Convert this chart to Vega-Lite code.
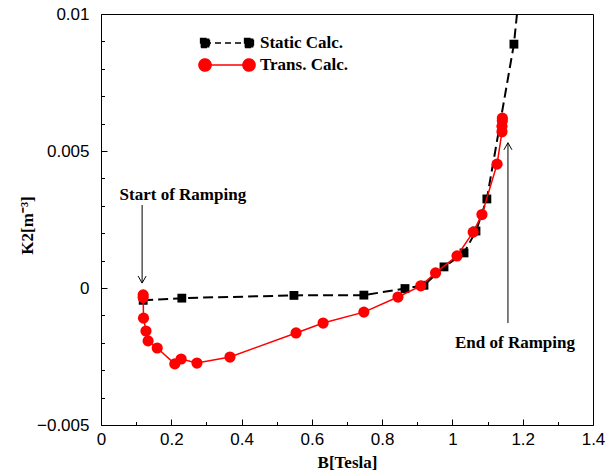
{
  "$schema": "https://vega.github.io/schema/vega-lite/v6.json",
  "width": 492,
  "height": 411,
  "autosize": {"type": "none"},
  "padding": {"left": 101, "top": 14, "right": 20, "bottom": 48},
  "background": "white",
  "config": {
    "view": {"stroke": "black", "strokeWidth": 1},
    "axis": {
      "domain": false, "grid": false, "tickColor": "black", "tickWidth": 1, "ticks": true,
      "labelColor": "black", "labelFont": "Liberation Sans", "labelFontSize": 17,
      "labelOverlap": false, "labelFlush": false,
      "titleFont": "Liberation Serif", "titleFontSize": 17, "titleFontWeight": "bold", "titleColor": "black"
    }
  },
  "datasets": {
    "curves": [
      {"series": "Static Calc.", "i": 1, "B": 0.12, "K": -0.00045},
      {"series": "Static Calc.", "i": 2, "B": 0.23, "K": -0.00037},
      {"series": "Static Calc.", "i": 3, "B": 0.549, "K": -0.00027},
      {"series": "Static Calc.", "i": 4, "B": 0.748, "K": -0.00026},
      {"series": "Static Calc.", "i": 5, "B": 0.865, "K": -0.00002},
      {"series": "Static Calc.", "i": 6, "B": 0.919, "K": 0.0001},
      {"series": "Static Calc.", "i": 7, "B": 0.976, "K": 0.00077},
      {"series": "Static Calc.", "i": 8, "B": 1.033, "K": 0.00128},
      {"series": "Static Calc.", "i": 9, "B": 1.067, "K": 0.00208},
      {"series": "Static Calc.", "i": 10, "B": 1.098, "K": 0.00325},
      {"series": "Static Calc.", "i": 11, "B": 1.175, "K": 0.0089},
      {"series": "Static Calc.", "i": 12, "B": 1.19, "K": 0.0108},
      {"series": "Trans. Calc.", "i": 1, "B": 0.12, "K": -0.00025},
      {"series": "Trans. Calc.", "i": 2, "B": 0.12, "K": -0.00035},
      {"series": "Trans. Calc.", "i": 3, "B": 0.121, "K": -0.0011},
      {"series": "Trans. Calc.", "i": 4, "B": 0.128, "K": -0.00157},
      {"series": "Trans. Calc.", "i": 5, "B": 0.134, "K": -0.00193},
      {"series": "Trans. Calc.", "i": 6, "B": 0.16, "K": -0.00219},
      {"series": "Trans. Calc.", "i": 7, "B": 0.21, "K": -0.00277},
      {"series": "Trans. Calc.", "i": 8, "B": 0.228, "K": -0.00259},
      {"series": "Trans. Calc.", "i": 9, "B": 0.273, "K": -0.00274},
      {"series": "Trans. Calc.", "i": 10, "B": 0.367, "K": -0.00252},
      {"series": "Trans. Calc.", "i": 11, "B": 0.555, "K": -0.00164},
      {"series": "Trans. Calc.", "i": 12, "B": 0.632, "K": -0.00128},
      {"series": "Trans. Calc.", "i": 13, "B": 0.748, "K": -0.00088},
      {"series": "Trans. Calc.", "i": 14, "B": 0.845, "K": -0.00033},
      {"series": "Trans. Calc.", "i": 15, "B": 0.91, "K": 0.00008},
      {"series": "Trans. Calc.", "i": 16, "B": 0.952, "K": 0.00055},
      {"series": "Trans. Calc.", "i": 17, "B": 1.013, "K": 0.00117},
      {"series": "Trans. Calc.", "i": 18, "B": 1.059, "K": 0.00204},
      {"series": "Trans. Calc.", "i": 19, "B": 1.084, "K": 0.00268},
      {"series": "Trans. Calc.", "i": 20, "B": 1.127, "K": 0.00452},
      {"series": "Trans. Calc.", "i": 21, "B": 1.141, "K": 0.0057},
      {"series": "Trans. Calc.", "i": 22, "B": 1.141, "K": 0.0059},
      {"series": "Trans. Calc.", "i": 23, "B": 1.142, "K": 0.0061},
      {"series": "Trans. Calc.", "i": 24, "B": 1.142, "K": 0.0062}
    ],
    "arrows": [
      {"label": "Start of Ramping", "dir": "down", "B": 0.117, "Kfrom": 0.00303, "Kto": 0.00018, "Btext": 0.233, "Ktext": 0.0034},
      {"label": "End of Ramping", "dir": "up", "B": 1.158, "Kfrom": -0.00128, "Kto": 0.0053, "Btext": 1.178, "Ktext": -0.002}
    ]
  },
  "layer": [
    {
      "data": {"name": "curves"},
      "transform": [{"filter": "datum.series === 'Static Calc.'"}],
      "mark": {"type": "line", "strokeDash": [10, 5], "strokeWidth": 2, "clip": true},
      "encoding": {
        "x": {"field": "B", "type": "quantitative", "scale": {"domain": [0, 1.4], "nice": false, "zero": false},
          "axis": {"orient": "bottom", "title": "B[Tesla]", "values": [0,0.1,0.2,0.3,0.4,0.5,0.6,0.7,0.8,0.9,1,1.1,1.2,1.3,1.4],
            "tickSize": 6, "offset": -6,
            "tickDash": {"condition": {"test": "round(datum.value*10) % 2 === 0", "value": [6, 0]}, "value": [0, 2.5, 3.5, 20]},
            "labelExpr": "round(datum.value*10) % 2 === 0 ? format(datum.value, '~g') : ''",
            "labelPadding": 6, "titleY": 43, "titleBaseline": "middle"}},
        "y": {"field": "K", "type": "quantitative", "scale": {"domain": [-0.005, 0.01], "nice": false, "zero": false},
          "axis": {"orient": "left", "title": "K2[m⁻³]", "values": [-0.005,-0.004,-0.003,-0.002,-0.001,0,0.001,0.002,0.003,0.004,0.005,0.006,0.007,0.008,0.009,0.01],
            "tickSize": 6, "offset": -6,
            "tickDash": {"condition": {"test": "round(datum.value*1000) % 5 === 0", "value": [6, 0]}, "value": [0, 2.5, 3.5, 20]},
            "labelExpr": "round(datum.value*1000) % 5 === 0 ? format(datum.value, '~g') : ''",
            "labelPadding": 12, "titleX": -80, "titleY": 211, "titleAngle": 270, "titleAlign": "center", "titleBaseline": "middle"}},
        "color": {"field": "series", "type": "nominal", "scale": {"domain": ["Static Calc.", "Trans. Calc."], "range": ["black", "red"]},
          "legend": {
            "title": null, "orient": "none", "legendX": 114, "legendY": 17,
            "symbolSize": 484, "labelOffset": 21, "rowPadding": 2, "padding": 0,
            "labelFont": "Liberation Serif", "labelFontSize": 17, "labelFontWeight": "bold", "labelColor": "black",
            "symbolStrokeWidth": 1.5,
            "encode": {"symbols": {"update": {
              "shape": {"signal": "datum.value === 'Static Calc.' ? 'M-2,0H2M-2.4,-0.4H-1.6V0.4H-2.4ZM1.6,-0.4H2.4V0.4H1.6Z' : 'M-2,0H2M-1.45,0A0.55,0.55,0,1,1,-2.55,0A0.55,0.55,0,1,1,-1.45,0ZM2.55,0A0.55,0.55,0,1,1,1.45,0A0.55,0.55,0,1,1,2.55,0Z'"},
              "strokeDash": {"signal": "datum.value === 'Static Calc.' ? [6, 4] : [1, 0]"},
              "fill": {"signal": "datum.value === 'Static Calc.' ? 'black' : 'red'"},
              "stroke": {"signal": "datum.value === 'Static Calc.' ? 'black' : 'red'"},
              "fillOpacity": {"value": 1},
              "strokeOpacity": {"value": 1},
              "opacity": {"value": 1}
            }}}
          }},
        "order": {"field": "i"}
      }
    },
    {
      "data": {"name": "curves"},
      "transform": [{"filter": "datum.series === 'Static Calc.'"}],
      "mark": {"type": "point", "shape": "square", "filled": true, "size": 78, "opacity": 1, "clip": true},
      "encoding": {
        "x": {"field": "B", "type": "quantitative", "axis": null},
        "y": {"field": "K", "type": "quantitative", "axis": null},
        "color": {"field": "series", "type": "nominal"}
      }
    },
    {
      "data": {"name": "curves"},
      "transform": [{"filter": "datum.series === 'Trans. Calc.'"}],
      "mark": {"type": "line", "strokeWidth": 1.5, "clip": true},
      "encoding": {
        "x": {"field": "B", "type": "quantitative", "axis": null},
        "y": {"field": "K", "type": "quantitative", "axis": null},
        "color": {"field": "series", "type": "nominal"},
        "order": {"field": "i"}
      }
    },
    {
      "data": {"name": "curves"},
      "transform": [{"filter": "datum.series === 'Trans. Calc.'"}],
      "mark": {"type": "point", "shape": "circle", "filled": true, "size": 125, "opacity": 1, "clip": true},
      "encoding": {
        "x": {"field": "B", "type": "quantitative", "axis": null},
        "y": {"field": "K", "type": "quantitative", "axis": null},
        "color": {"field": "series", "type": "nominal"}
      }
    },
    {
      "data": {"name": "arrows"},
      "mark": {"type": "rule", "color": "black", "strokeWidth": 1},
      "encoding": {
        "x": {"field": "B", "type": "quantitative", "axis": null},
        "y": {"field": "Kfrom", "type": "quantitative", "axis": null},
        "y2": {"field": "Kto"}
      }
    },
    {
      "data": {"name": "arrows"},
      "mark": {"type": "point", "filled": false, "color": "black", "strokeWidth": 1, "size": 196, "opacity": 1},
      "encoding": {
        "x": {"field": "B", "type": "quantitative", "axis": null},
        "y": {"field": "Kto", "type": "quantitative", "axis": null},
        "shape": {"field": "dir", "type": "nominal", "scale": {"domain": ["down", "up"], "range": ["M-0.57,-1L0,0L0.57,-1", "M-0.57,1L0,0L0.57,1"]}, "legend": null}
      }
    },
    {
      "data": {"name": "arrows"},
      "mark": {"type": "text", "font": "Liberation Serif", "fontSize": 17, "fontWeight": "bold", "color": "black", "align": "center", "baseline": "middle"},
      "encoding": {
        "x": {"field": "Btext", "type": "quantitative", "axis": null},
        "y": {"field": "Ktext", "type": "quantitative", "axis": null},
        "text": {"field": "label"}
      }
    }
  ],
  "resolve": {"axis": {"x": "independent", "y": "independent"}}
}
